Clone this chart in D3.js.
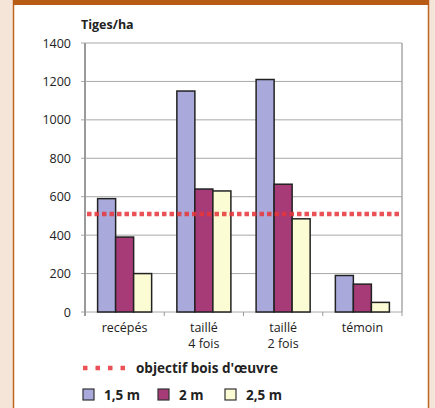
<!DOCTYPE html>
<html><head><meta charset="utf-8">
<script src="https://cdn.jsdelivr.net/npm/d3@7"></script>
<style>body{margin:0;background:#f5e5d8;}svg{display:block;font-family:"Open Sans","DejaVu Sans",sans-serif;}</style>
</head><body><svg id="c" width="435" height="408"></svg>
<script>
const categories = [["recépés"],["taillé","4 fois"],["taillé","2 fois"],["témoin"]];
const seriesNames = ["1,5 m","2 m","2,5 m"];
const s15 = [590,1150,1210,190];
const s2 = [390,640,665,145];
const s25 = [200,630,485,50];
const target = 510;
const yTicks = [0,200,400,600,800,1000,1200,1400];
const colors = ["#a9aadb","#a63b78","#fbfbd4"];

const svg = d3.select("#c");
svg.append("rect").attr("x",0).attr("y",0).attr("width",435).attr("height",408).attr("fill","#f5e5d8");
svg.append("rect").attr("x",13.5).attr("y",0).attr("width",415).attr("height",420).attr("fill","#fff").attr("stroke","#c0651f").attr("stroke-width",1.5);
svg.append("rect").attr("x",13).attr("y",0).attr("width",416).attr("height",5).attr("fill","#b85b14");

const L=85,R=402,T=43,B=312;
const x = d3.scaleBand().domain(d3.range(categories.length)).range([L,R]);
const xs = d3.scaleBand().domain(d3.range(3)).range([0,x.bandwidth()]).paddingOuter(0.7).paddingInner(0);
const y = d3.scaleLinear().domain([0,1400]).range([B,T]);

// grid
svg.append("g").selectAll("line").data(yTicks).join("line")
  .attr("x1",L-4).attr("x2",R).attr("y1",d=>y(d)).attr("y2",d=>y(d))
  .attr("stroke","#a8a8a8").attr("stroke-width",1);
svg.append("line").attr("x1",R).attr("x2",R).attr("y1",T).attr("y2",B).attr("stroke","#a8a8a8").attr("stroke-width",1.5);

// y axis
const ya = svg.append("g").attr("transform",`translate(${L-11},0)`)
  .call(d3.axisLeft(y).tickValues(yTicks).tickSize(0).tickFormat(d3.format("d")));
ya.select(".domain").remove();
ya.selectAll("text").attr("font-size",12.5).attr("fill","#222").attr("font-family","'Open Sans',sans-serif");
svg.append("line").attr("x1",L).attr("x2",L).attr("y1",T).attr("y2",B+4).attr("stroke","#9a9a9a").attr("stroke-width",2);

// x ticks
svg.append("g").selectAll("line").data(d3.range(categories.length+1)).join("line")
  .attr("x1",i=>L+i*x.bandwidth()).attr("x2",i=>L+i*x.bandwidth()).attr("y1",B).attr("y2",B+4)
  .attr("stroke","#9a9a9a");

// bars
const data = [s15,s2,s25];
const g = svg.append("g");
categories.forEach((c,i)=>{
  data.forEach((s,j)=>{
    g.append("rect").attr("x",x(i)+xs(j)).attr("y",y(s[i])).attr("width",xs.bandwidth()).attr("height",y(0)-y(s[i]))
      .attr("fill",colors[j]).attr("stroke","#222").attr("stroke-width",1.5);
  });
});

// x labels
categories.forEach((c,i)=>{
  c.forEach((ln,k)=>svg.append("text").attr("x",x(i)+x.bandwidth()/2).attr("y",332+k*16).attr("text-anchor","middle")
    .attr("font-size",12.5).attr("fill","#222").text(ln));
});

// target line
svg.append("line").attr("x1",L+2).attr("x2",R).attr("y1",y(target)).attr("y2",y(target))
  .attr("stroke","#e8353a").attr("stroke-width",4.5).attr("stroke-dasharray","4.5,3").attr("opacity",0.85);

// title
svg.append("text").attr("x",81).attr("y",29).attr("font-size",12.5).attr("font-weight","bold").attr("fill","#222").text("Tiges/ha");

// legend
svg.append("line").attr("x1",83).attr("x2",130).attr("y1",368).attr("y2",368)
  .attr("stroke","#e8353a").attr("stroke-width",4.5).attr("stroke-dasharray","4.5,8").attr("opacity",0.85);
svg.append("text").attr("x",136).attr("y",373).attr("font-size",13.5).attr("font-weight","bold").attr("fill","#222").text("objectif bois d'œuvre");
const lx=[83,158,225];
seriesNames.forEach((n,j)=>{
  svg.append("rect").attr("x",lx[j]).attr("y",389).attr("width",11).attr("height",11).attr("fill",colors[j]).attr("stroke","#333").attr("stroke-width",1.2);
  svg.append("text").attr("x",lx[j]+21).attr("y",400).attr("font-size",13.5).attr("font-weight","bold").attr("fill","#222").text(n);
});
</script></body></html>
